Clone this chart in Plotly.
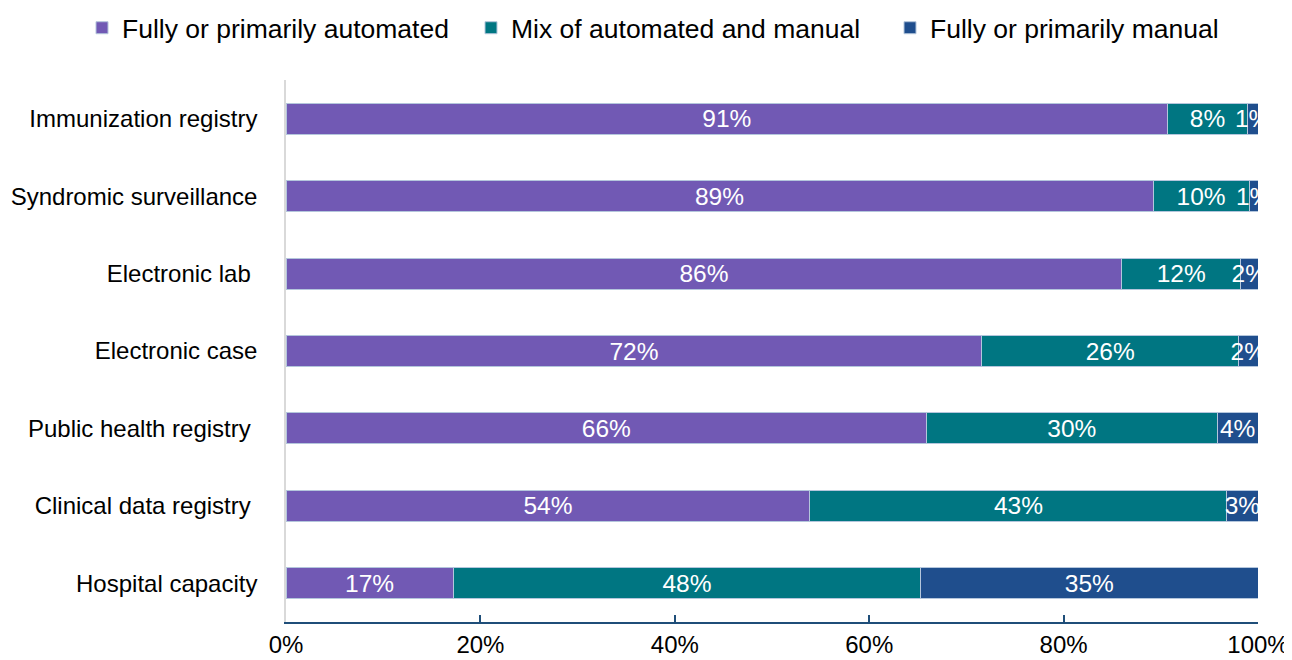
import plotly.graph_objects as go

categories = ["Immunization registry", "Syndromic surveillance", "Electronic lab\u00a0",
              "Electronic case", "Public health registry\u00a0", "Clinical data registry\u00a0",
              "Hospital capacity"]
automated = [90.7, 89.2, 86.0, 71.6, 65.9, 53.9, 17.2]
mixed = [8.2, 9.9, 12.2, 26.4, 29.9, 42.9, 48.1]
manual = [1.1, 0.9, 1.8, 2.0, 4.2, 3.2, 34.7]
series_names = ["Fully or primarily automated", "Mix of automated and manual", "Fully or primarily manual"]
colors = ["#7159B4", "#007682", "#1F4E8D"]
legend_ids = ["legend", "legend2", "legend3"]

W, H = 1284, 652  # page body has an 8px margin
legend_x = [74, 463, 882]

FONT = "Liberation Sans, Arial, sans-serif"
FS = 24
fig = go.Figure()
for name, vals, col, lid in zip(series_names, [automated, mixed, manual], colors, legend_ids):
    fig.add_trace(go.Bar(
        y=categories, x=vals, name=name, orientation="h", legend=lid,
        marker=dict(color=col, line=dict(color="#b4c6dc", width=1)),
        text=[f"{round(v):.0f}%" for v in vals],
        textposition="inside", insidetextanchor="middle", textangle=0,
        constraintext="none",
        textfont=dict(color="white", size=24.5, family=FONT),
        cliponaxis=True,
    ))

legend_common = dict(orientation="h", xref="container", yref="container",
                     y=1 - 20 / H, xanchor="left", yanchor="middle",
                     font=dict(size=26.5, family=FONT, color="black"),
                     bgcolor="rgba(0,0,0,0)")
fig.update_layout(
    barmode="stack", bargap=0.6,
    width=W, height=H,
    margin=dict(l=278, r=34, t=72, b=38, autoexpand=False),
    plot_bgcolor="white", paper_bgcolor="white",
    font=dict(family=FONT, size=FS, color="black"),
    legend=dict(x=legend_x[0] / W, **legend_common),
    legend2=dict(x=legend_x[1] / W, **legend_common),
    legend3=dict(x=legend_x[2] / W, **legend_common),
    showlegend=True,
)
fig.update_xaxes(range=[0, 100], tickvals=[0, 20, 40, 60, 80, 100],
                 ticktext=["0%", "20%", "40%", "60%", "80%", "100%"],
                 showgrid=False, zeroline=False, showline=True, automargin=False,
                 linecolor="#1F4E79", linewidth=1.5,
                 ticks="inside", ticklen=7, tickcolor="#1F4E79", tickwidth=1.5,
                 ticklabelstandoff=0, tickfont=dict(size=FS))
fig.update_yaxes(autorange="reversed", showgrid=False, zeroline=False, automargin=False,
                 showline=True, linecolor="#d9d9d9", linewidth=1.5,
                 ticks="", ticklabelstandoff=22, tickfont=dict(size=FS))

fig.write_html("out.html")
